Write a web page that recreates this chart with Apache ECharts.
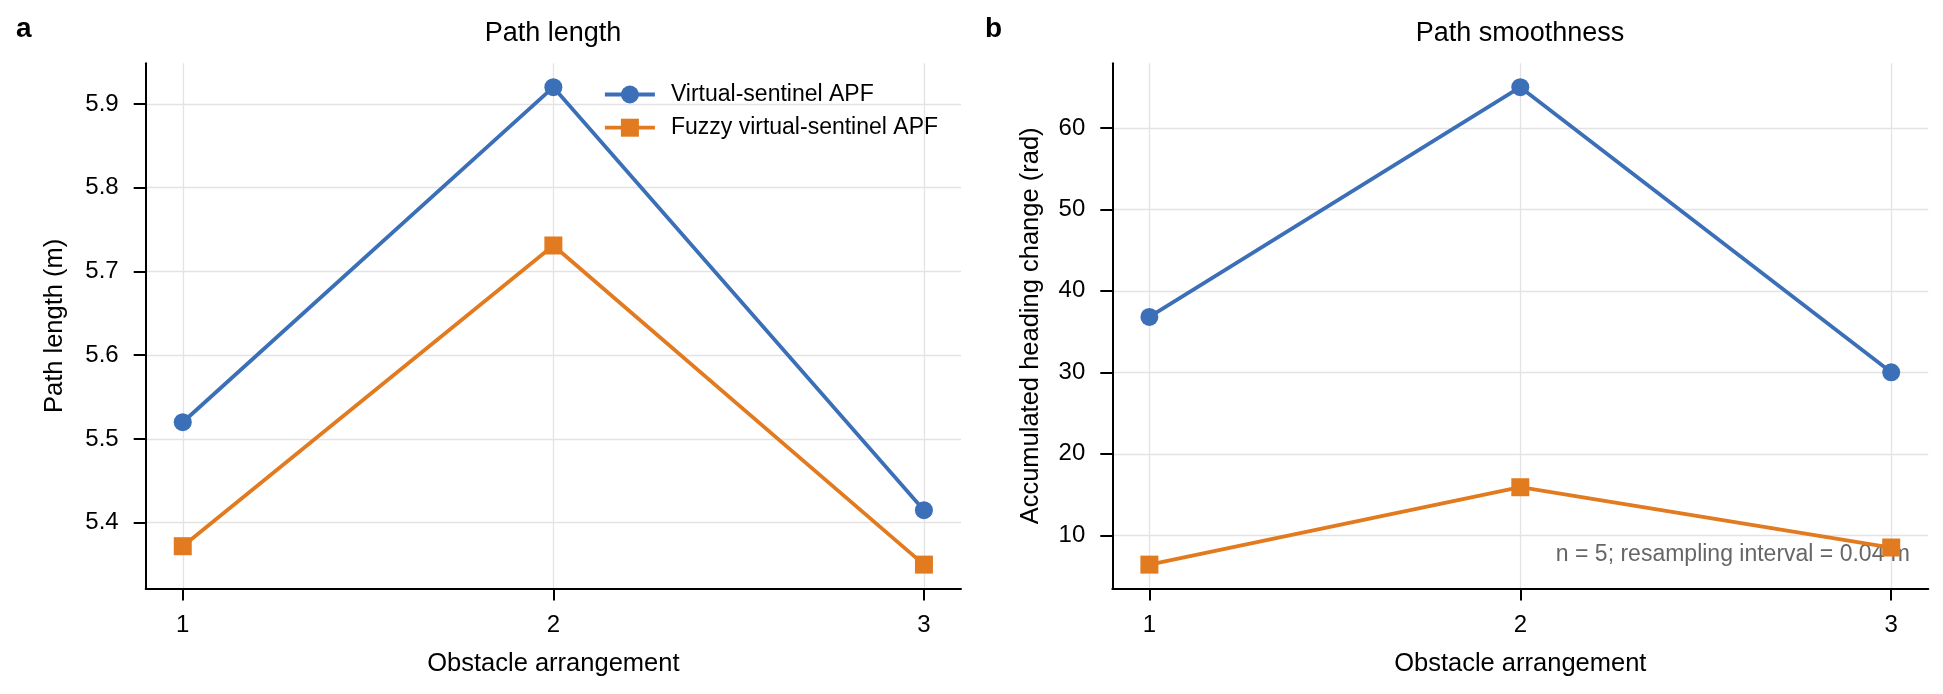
<!DOCTYPE html>
<html><head><meta charset="utf-8">
<script src="https://cdn.jsdelivr.net/npm/echarts@6/dist/echarts.min.js"></script>
<style>html,body{margin:0;padding:0;background:#fff}#c{width:1943px;height:694px}</style>
</head><body><div id="c"></div>
<script>
// ---- data ----
const categories = [1, 2, 3];
const seriesNames = ['Virtual-sentinel APF', 'Fuzzy virtual-sentinel APF'];
const pathLengthVS = [5.52, 5.92, 5.415];
const pathLengthFuzzy = [5.372, 5.731, 5.350];
const smoothnessVS = [36.8, 65.0, 30.0];
const smoothnessFuzzy = [6.4, 15.9, 8.5];
const xTicks = [1, 2, 3];
const pathLengthTicks = [5.4, 5.5, 5.6, 5.7, 5.8, 5.9];
const smoothnessTicks = [10, 20, 30, 40, 50, 60];
const titles = ['Path length', 'Path smoothness'];
const panelLetters = ['a', 'b'];
const xName = 'Obstacle arrangement';
const yNames = ['Path length (m)', 'Accumulated heading change (rad)'];
const note = 'n = 5; resampling interval = 0.04 m';

// ---- styling ----
const FF = "'Liberation Sans', Arial, Helvetica, sans-serif";
const BLUE = '#3b6fb7';
const ORANGE = '#e27b20';
const GRIDC = '#e3e3e3';

function pad(arr) {
  const mn = Math.min(...arr), mx = Math.max(...arr), r = mx - mn;
  return [mn - 0.05 * r, mx + 0.05 * r];
}
const ext0 = pad(pathLengthVS.concat(pathLengthFuzzy));
const ext1 = pad(smoothnessVS.concat(smoothnessFuzzy));

const grids = [
  {left: 145.7, top: 63.3, width: 815.3, height: 525.2},
  {left: 1112.3, top: 63.3, width: 816, height: 525.2}
];

function xAxisCfg(gi) {
  return {
    type: 'value', gridIndex: gi, min: 0.9, max: 3.1,
    name: xName, nameLocation: 'middle', nameGap: 62.5,
    nameTextStyle: {fontSize: 25.5, color: '#000', fontFamily: FF},
    axisLine: {show: true, onZero: false, lineStyle: {color: '#000', width: 2}},
    axisTick: {show: true, customValues: xTicks, length: 12, lineStyle: {color: '#000', width: 2}},
    axisLabel: {customValues: xTicks, margin: 25, fontSize: 24, color: '#000', fontFamily: FF},
    splitLine: {show: true, lineStyle: {color: GRIDC, width: 1.3}}
  };
}
function yAxisCfg(gi, ext, ticks, name, gap) {
  return {
    type: 'value', gridIndex: gi, min: ext[0], max: ext[1],
    name: name, nameLocation: 'middle', nameGap: gap,
    nameTextStyle: {fontSize: 25.5, color: '#000', fontFamily: FF},
    axisLine: {show: true, onZero: false, lineStyle: {color: '#000', width: 2}},
    axisTick: {show: true, customValues: ticks, length: 12, lineStyle: {color: '#000', width: 2}},
    axisLabel: {customValues: ticks, margin: 27, fontSize: 24, color: '#000', fontFamily: FF},
    splitLine: {show: true, lineStyle: {color: GRIDC, width: 1.3}}
  };
}
function mk(name, gi, vals, color, symbol) {
  return {
    type: 'line', name: name, xAxisIndex: gi, yAxisIndex: gi,
    data: categories.map((c, i) => [c, vals[i]]),
    symbol: symbol, symbolSize: 18, showAllSymbol: true,
    lineStyle: {width: 3.8, color: color}, itemStyle: {color: color},
    emphasis: {disabled: true}, animation: false, z: 3
  };
}

const chart = echarts.init(document.getElementById('c'), null, {renderer: 'canvas'});
chart.setOption({
  backgroundColor: '#fff',
  animation: false,
  textStyle: {fontFamily: FF},
  title: [
    {text: titles[0], left: 553, top: 20, textAlign: 'center', padding: 0,
     textStyle: {fontSize: 27, fontWeight: 'normal', color: '#000', fontFamily: FF}},
    {text: titles[1], left: 1520, top: 20, textAlign: 'center', padding: 0,
     textStyle: {fontSize: 27, fontWeight: 'normal', color: '#000', fontFamily: FF}},
    {text: panelLetters[0], left: 16, top: 15, padding: 0,
     textStyle: {fontSize: 28, fontWeight: 'bold', color: '#000', fontFamily: FF}},
    {text: panelLetters[1], left: 985, top: 15, padding: 0,
     textStyle: {fontSize: 28, fontWeight: 'bold', color: '#000', fontFamily: FF}}
  ],
  legend: {
    orient: 'vertical', left: 603, top: 83, padding: 0,
    itemWidth: 50, itemHeight: 22.5, itemGap: 10.2,
    data: seriesNames,
    lineStyle: {width: 3.8},
    textStyle: {fontSize: 23, color: '#000', fontFamily: FF, padding: [0, 0, 0, 11]}
  },
  grid: grids,
  xAxis: [xAxisCfg(0), xAxisCfg(1)],
  yAxis: [
    yAxisCfg(0, ext0, pathLengthTicks, yNames[0], 78),
    yAxisCfg(1, ext1, smoothnessTicks, yNames[1], 68.5)
  ],
  graphic: [
    {type: 'text', x: 1910, y: 555, z: 1,
     style: {text: note, align: 'right', verticalAlign: 'middle', fontSize: 23, fill: '#666', fontFamily: FF}}
  ],
  series: [
    mk(seriesNames[0], 0, pathLengthVS, BLUE, 'circle'),
    mk(seriesNames[1], 0, pathLengthFuzzy, ORANGE, 'rect'),
    mk(seriesNames[0], 1, smoothnessVS, BLUE, 'circle'),
    mk(seriesNames[1], 1, smoothnessFuzzy, ORANGE, 'rect')
  ]
});
</script>
</body></html>
